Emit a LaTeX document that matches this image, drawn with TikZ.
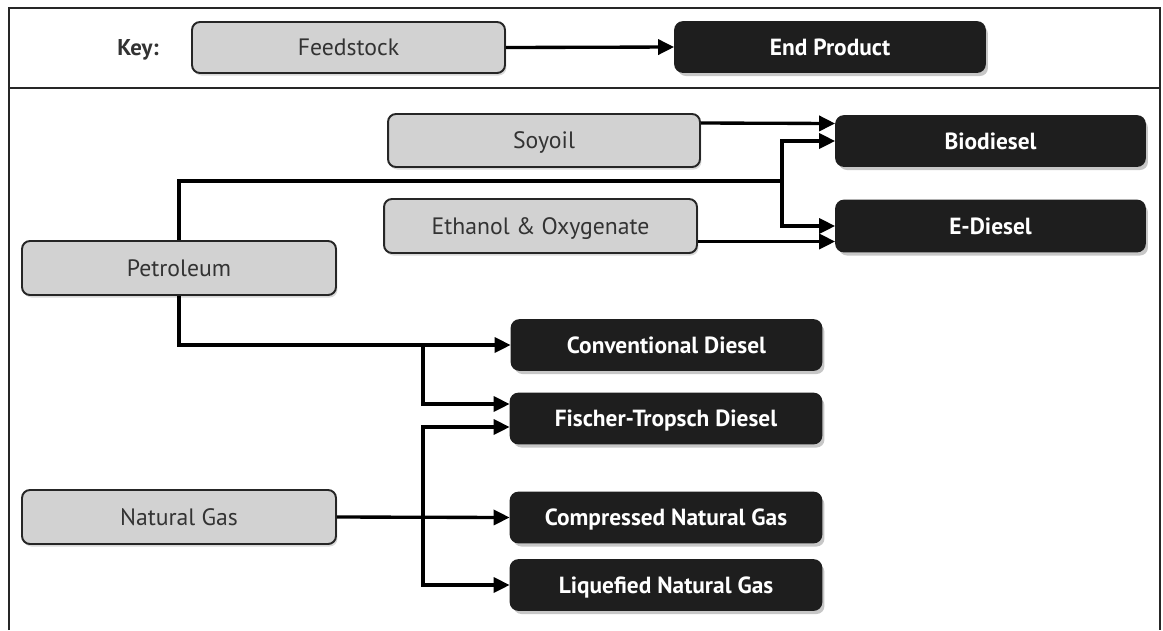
\documentclass[tikz,border=0pt]{standalone}
\usepackage{fontspec}
\setmainfont{PT Sans}
\usetikzlibrary{arrows.meta,calc,shadows}
\definecolor{feedfill}{HTML}{D2D2D2}
\definecolor{prodfill}{HTML}{1E1E1E}
\definecolor{feedtext}{HTML}{333333}
\definecolor{edgecol}{HTML}{262626}
\begin{document}
\begin{tikzpicture}[x=0.02cm,y=-0.02cm,
  label text/.style={text height=0.95em, text depth=0pt},
  feed/.style={draw=edgecol, line width=1.1pt, fill=feedfill, rounded corners=4.5pt,
    text=feedtext, font=\fontsize{13.5}{15}\selectfont, inner sep=0pt, label text,
    drop shadow={shadow xshift=0.03cm, shadow yshift=-0.05cm, fill=black!15, opacity=1}},
  prod/.style={draw=prodfill, line width=1pt, fill=prodfill, rounded corners=4.5pt,
    text=white, font=\fontsize{13.3}{15}\selectfont\bfseries, inner sep=0pt, label text,
    drop shadow={shadow xshift=0.06cm, shadow yshift=-0.08cm, fill=black!22, opacity=1}},
  conn/.style={line width=1.9pt, draw=black},
  arr/.style={conn, -{Triangle[length=0.32cm,width=0.3cm]}},
  frameline/.style={line width=1.4pt, draw=black!85}
]
\useasboundingbox (0,0) rectangle (1163,630);

% outer frame and key separator
\draw[frameline] (9,630) -- (9,8) -- (1160,8) -- (1160,630);
\draw[frameline] (9,88) -- (1160,88);

% key
\node[text=feedtext, font=\fontsize{13}{15}\selectfont\bfseries, label text] (key) at (138,47) {Key:};
\node[feed, minimum width=6.26cm, minimum height=1.02cm] (kfeed) at (348.5,47.5) {Feedstock};
\node[prod, minimum width=6.2cm, minimum height=1.0cm] (kprod) at (830,47) {End Product};
\draw[arr] (kfeed.east) -- (kprod.west);

% feedstocks
\node[feed, minimum width=6.24cm, minimum height=1.06cm] (soy) at (544,140.5) {Soyoil};
\node[feed, minimum width=6.26cm, minimum height=1.08cm] (eth) at (540.5,226) {Ethanol \& Oxygenate};
\node[feed, minimum width=6.28cm, minimum height=1.08cm] (pet) at (179,268) {Petroleum};
\node[feed, minimum width=6.28cm, minimum height=1.08cm] (ng) at (179,517) {Natural Gas};

% end products
\node[prod, minimum width=6.18cm, minimum height=1.0cm] (bio) at (990.5,141) {Biodiesel};
\node[prod, minimum width=6.18cm, minimum height=1.02cm] (ed) at (990.5,226) {E-Diesel};
\node[prod, minimum width=6.2cm, minimum height=1.0cm] (conv) at (666.5,345) {Conventional Diesel};
\node[prod, minimum width=6.22cm, minimum height=1.0cm] (ft) at (666,418.5) {Fischer-Tropsch Diesel};
\node[prod, minimum width=6.22cm, minimum height=1.0cm] (cng) at (666,517.5) {Compressed Natural Gas};
\node[prod, minimum width=6.22cm, minimum height=1.0cm] (lng) at (666,585) {Liquefied Natural Gas};

% junction points
\coordinate (pj) at (782,181);
\coordinate (cj) at (423,345);
\coordinate (nj) at (423,518);

% soyoil and ethanol
\draw[arr] ($(soy.east)+(0,-17.5)$) -- ($(bio.west)+(0,-17.5)$);
\draw[arr] ($(eth.east)+(0,15.5)$) -- ($(ed.west)+(0,15.5)$);

% petroleum
\draw[conn] (pet.north) |- (pj);
\draw[arr] (pj) |- (bio.west);
\draw[arr] (pj) |- (ed.west);
\draw[arr] (pet.south) |- (conv.west);
\draw[arr] (cj) |- ($(ft.west)+(0,-14.5)$);

% natural gas
\draw[arr] (ng.east) -- (cng.west);
\draw[arr] (nj) |- ($(ft.west)+(0,8.5)$);
\draw[arr] (nj) |- (lng.west);
\end{tikzpicture}
\end{document}
